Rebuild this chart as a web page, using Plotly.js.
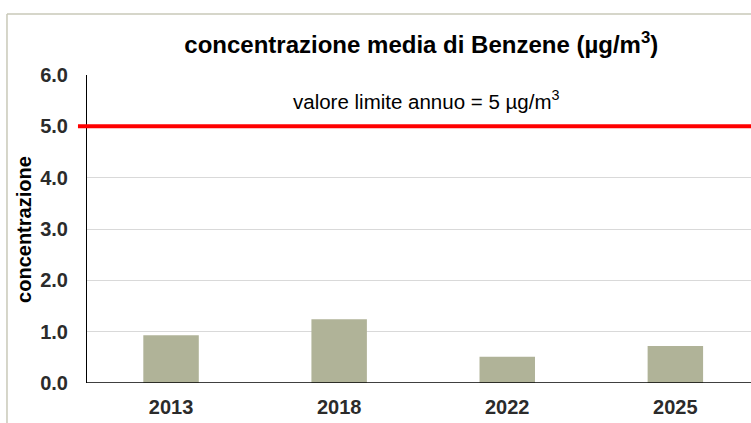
<!DOCTYPE html>
<html>
<head>
<meta charset="utf-8">
<script src="https://cdn.plot.ly/plotly-3.0.1.min.js"></script>
<style>
  html, body {margin: 0; padding: 0; background: #fff;}
  #chart {width: 751px; height: 423px;}
</style>
</head>
<body>
<div id="chart"></div>
<script>
const years = ['2013', '2018', '2022', '2025']
const benzene = [0.93, 1.24, 0.51, 0.72]
const limitValue = 5
const yTicks = [0, 1, 2, 3, 4, 5, 6]
const yTickLabels = ['0.0', '1.0', '2.0', '3.0', '4.0', '5.0', '6.0']

const FONT = 'Liberation Sans, Arial, sans-serif'
const BAR_COLOR = '#b0b398'

const data = [{
  type: 'bar',
  x: years,
  y: benzene,
  width: 0.33,
  marker: {color: BAR_COLOR, line: {width: 0}},
  hoverinfo: 'none'
}]

const layout = {
  width: 751,
  height: 423,
  margin: {l: 87, r: 0, t: 75, b: 40},
  paper_bgcolor: '#fff',
  plot_bgcolor: '#fff',
  showlegend: false,
  font: {family: FONT, color: '#262626'},
  title: {
    text: '<b>concentrazione media di Benzene (µg/m<sup>3</sup>)</b>',
    font: {size: 24, color: '#000'},
    x: 0.561,
    xanchor: 'center',
    y: 0.895,
    yanchor: 'middle'
  },
  xaxis: {
    type: 'category',
    range: [-0.5, 3.45],
    showgrid: false,
    zeroline: false,
    showline: false,
    ticks: '',
    tickfont: {size: 20, color: '#2b2b2b', family: FONT, weight: 'bold'},
    ticklabelstandoff: 10
  },
  yaxis: {
    range: [0, 6],
    tickvals: yTicks,
    ticktext: yTickLabels,
    showgrid: true,
    gridcolor: '#d9d9d9',
    gridwidth: 1,
    zeroline: false,
    showline: true,
    linecolor: '#000',
    linewidth: 1,
    ticks: '',
    tickfont: {size: 20, color: '#2b2b2b', family: FONT, weight: 'bold'},
    ticklabelstandoff: 14
  },
  shapes: [
    // chart border (left and top), cropped image frame
    {type: 'line', xref: 'paper', yref: 'paper', x0: -0.1205, x1: -0.1205, y0: -0.14, y1: 1.198,
      line: {color: '#c9c9b8', width: 1.5}},
    {type: 'line', xref: 'paper', yref: 'paper', x0: -0.1205, x1: 1.01, y0: 1.198, y1: 1.198,
      line: {color: '#c9c9b8', width: 1.5}},
    // x axis baseline
    {type: 'line', xref: 'paper', yref: 'y', x0: 0, x1: 1, y0: 0, y1: 0,
      line: {color: '#000', width: 1.5}},
    // limit line
    {type: 'line', xref: 'paper', yref: 'y', x0: -0.0136, x1: 1, y0: limitValue, y1: limitValue,
      line: {color: '#ff0000', width: 4}}
  ],
  annotations: [
    {
      xref: 'paper', yref: 'y',
      x: 0.512, y: 5.52,
      text: 'valore limite annuo = 5 µg/m<sup>3</sup>',
      showarrow: false,
      font: {size: 20.5, color: '#000', family: FONT}
    },
    {
      xref: 'paper', yref: 'paper',
      x: -0.095, y: 0.5,
      xanchor: 'center', yanchor: 'middle',
      textangle: -90,
      text: '<b>concentrazione</b>',
      showarrow: false,
      font: {size: 20, color: '#000', family: FONT}
    }
  ]
}

Plotly.newPlot('chart', data, layout, {displayModeBar: false, staticPlot: true})
</script>
</body>
</html>
